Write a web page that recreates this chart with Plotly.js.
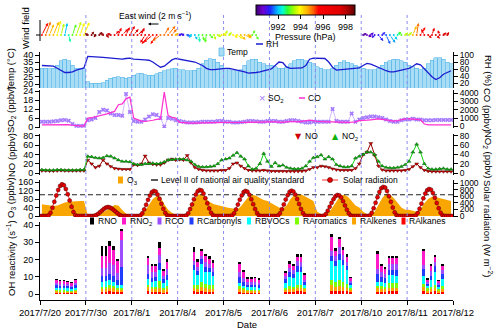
<!DOCTYPE html>
<html><head><meta charset="utf-8">
<script src="https://cdn.plot.ly/plotly-3.0.1.min.js"></script>
<style>html,body{margin:0;padding:0;background:#fff}#chart{width:500px;height:333px}</style>
</head><body><div id="chart"></div>
<script>
// ---------------- DATA ----------------
const dayLabels = ['2017/7/20','2017/7/30','2017/8/1','2017/8/4','2017/8/5','2017/8/6','2017/8/7','2017/8/10','2017/8/11'];
const tickLabels = ['2017/7/20','2017/7/30','2017/8/1','2017/8/4','2017/8/5','2017/8/6','2017/8/7','2017/8/10','2017/8/11','2017/8/12'];
const hours2 = [1,3,5,7,9,11,13,15,17,19,21,23];
const hours1 = [0.5,1.5,2.5,3.5,4.5,5.5,6.5,7.5,8.5,9.5,10.5,11.5,12.5,13.5,14.5,15.5,16.5,17.5,18.5,19.5,20.5,21.5,22.5,23.5];
const ohHours = [8.5,10.5,12.5,14.5,16.5,18.5];

const temp = [
 31,31,30.5,31,33,36,37,36,33,31,30.5,30.5,
 21.5,20.5,20.5,20.5,21,22.5,24,24.5,25,24.5,24,24.5,
 26,27,27.5,26.5,26,26,27,28,29,30,30.5,31,
 30,30,29,29,29.5,31,34,36.5,37.5,37,35,33,
 31,30,29,29,30,33,36,37,37,35,34,33,
 33,32,31,31,32,34,36,37,37,36,35,34,
 32,31,30,30,31,33,35,36,35,34,33,32,
 31,30,30,30,31,33,35,36,37,37,36,35,
 33,32,31,30,31,34,36.5,38,38,37,35,34];
const rh = [
 70,70,70,68,62,55,50,50,52,57,60,63,
 96,96,95,94,93,92,90,88,87,88,90,91,
 88,88,87,86,85,80,72,65,68,78,86,90,
 88,86,84,82,80,75,70,62,58,58,60,62,
 62,62,60,58,56,52,48,48,50,52,55,57,
 60,70,80,78,65,62,62,63,63,70,88,91,
 91,91,90,80,65,57,58,60,62,63,63,63,
 70,76,74,70,65,60,55,52,52,55,58,60,
 62,68,75,72,60,50,38,30,35,45,50,55];
const so2 = [
 3.5,3.5,3.5,3.8,4,4.5,4.7,4.2,2,0.8,0.7,0.8,
 4.5,5,6,10,11.5,11,9,8,8,7.5,22,10,
 4,3.5,3.5,5,7,8.5,8,6,0.3,6,5.5,4.5,
 4,3.5,3,3,3,3.2,3.5,3.5,3.5,3.5,4,4,
 3.5,3.5,3,3,3.2,3.5,4,4,3.8,3.5,3.5,4,
 4,4,3.5,3.5,4,4.5,4.5,4,3.5,3,3,3.5,
 3.5,3.5,3.5,3.5,12,4,3.5,3.5,3.5,9,3.5,5,
 6,6.5,7,7,6.5,6,5,4,3.5,3.5,4.5,5,
 5,5.5,5,5,4.5,4.5,4.5,4.7,4.7,4.7,4.7,4.7];
const co = [
 200,200,200,220,250,250,250,230,150,80,80,80,
 1000,1050,1150,1250,1350,1500,1650,1800,2600,2700,3300,3500,
 1000,800,650,600,650,750,850,900,4100,1300,1100,1000,
 500,450,400,400,400,420,450,450,450,450,500,500,
 500,480,450,450,480,500,520,520,500,500,520,550,
 550,550,500,500,550,600,600,550,600,700,750,700,
 600,600,550,550,550,520,500,500,500,520,550,700,
 700,750,800,850,900,850,800,700,650,700,800,900,
 900,900,850,800,300,200,200,200,200,200,200,200];
const no = [
 5,5,4.5,4.5,5,5.5,5,5,5,5,5,5,
 28,20,12,15,28,20,14,10,9,8,8,8,
 18,17,20,37,22,19,18,18,22,28,30,28,
 29,28,38,22,12,8,6,5,5,5,5,6,
 6,10,20,22,15,10,6,5,5,5,6,5,
 4,4,4,4,3.5,3.5,3.5,3.5,4,5,8,12,
 12,15,14,12,9,7,6,6,6,6,10,20,
 40,45,64,38,15,7,5,5,5,5,5,6,
 8,14,20,12,6,4,3,3,3,3,3,3];
const no2 = [
 7,6,6,6,7,7,6,6,6,6,7,7,
 36,35,33,32,33,37,36,32,28,25,25,24,
 20,18,18,20,20,21,20,21,24,28,29,30,
 30,30,28,25,18,14,13,13,14,15,20,28,
 30,32,38,44,36,30,15,8,10,20,42,25,
 14,22,15,17,12,10,9,9,10,15,25,33,
 35,39,30,35,30,18,15,13,13,15,32,36,
 40,45,45,40,25,15,12,11,11,12,14,18,
 25,45,62,45,20,10,8,8,9,10,8,8];
const o3 = [
 55,52,48,47,50,58,64,67,69,70,70,70,
 3,8,12,14,18,28,40,52,50,28,12,5,
 4,5,8,25,55,80,94,90,55,30,15,5,
 3,5,10,40,80,102,100,80,65,55,50,45,
 40,38,35,30,45,70,90,100,95,85,75,70,
 60,50,40,35,50,80,100,105,100,90,80,70,
 20,10,8,15,40,70,95,100,90,70,50,40,
 20,10,8,20,50,85,105,100,85,60,40,30,
 30,25,20,30,60,80,90,88,85,80,75,70];
const o3Standard = 100;
const solar = [
 0,0,0,0,20,100,250,430,620,790,910,960,930,820,660,470,280,120,25,0,0,0,0,0,
 0,0,0,0,5,30,70,120,170,220,255,270,260,230,185,135,85,40,8,0,0,0,0,0,
 0,0,0,0,15,80,200,340,490,620,720,760,740,650,520,370,220,95,20,0,0,0,0,0,
 0,0,0,0,15,85,210,350,510,650,750,790,770,680,540,385,230,100,20,0,0,0,0,0,
 0,0,0,0,15,80,200,345,495,625,725,760,735,645,510,360,210,90,18,0,0,0,0,0,
 0,0,0,0,15,80,205,350,500,630,730,765,740,650,515,365,215,92,18,0,0,0,0,0,
 0,0,0,0,10,60,160,280,400,510,595,635,625,560,450,320,190,80,15,0,0,0,0,0,
 0,0,0,0,18,95,235,400,570,730,840,880,860,760,600,430,255,110,22,0,0,0,0,0,
 0,0,0,0,16,88,220,375,535,680,780,818,795,700,555,395,235,100,20,0,0,0,0,0];
const N = null;
const windU = [
 1.0,0.8,0.7,0.9,0.6,0.5,0.4,0.3,0.6,0.8,0.7,0.9,
 -0.5,0.4,-0.3,0.5,-0.4,0.3,-0.6,0.8,0.5,1.0,0.6,0.8,
 0.8,1.0,0.5,-0.8,-1.2,-1.5,-1.0,-1.3,0.8,1.2,0.8,0.5,
 0.5,-0.4,0.6,-0.3,0.4,0.2,0.3,-0.2,0.5,0.3,0.6,0.8,
 0.3,0.4,0.8,1.0,0.8,1.2,0.6,0.5,0.4,N,N,N,
 N,N,N,N,N,N,N,N,N,N,N,N,
 N,N,N,N,N,N,N,N,N,N,N,N,
 0.6,0.8,0.5,-0.5,0.8,0.5,0.7,0.9,0.6,0.5,-0.4,0.5,
 0.5,0.6,0.3,0.8,-0.5,0.6,0.4,0.7,-0.3,0.5,0.3,N];
const windV = [
 2.0,2.2,1.8,2.2,2.4,1.9,2.0,-1.2,1.8,2.2,2.0,2.1,
 0.3,0.6,-0.4,0.5,0.4,-0.5,0.3,0.7,1.2,1.0,1.3,1.5,
 1.0,0.8,1.2,-1.3,-1.5,-1.2,-1.5,-1.0,1.3,1.5,1.0,0.3,
 0.2,0.3,-0.2,-0.5,-0.8,-1.2,-1.0,-1.3,-0.6,-0.8,-0.3,0.2,
 0.8,0.5,-0.4,-0.6,-0.8,-0.5,-0.3,0.8,-0.8,N,N,N,
 N,N,N,N,N,N,N,N,N,N,N,N,
 N,N,N,N,N,N,N,N,N,N,N,N,
 0.3,-0.3,0.4,-0.5,-1.0,0.5,-1.5,-1.3,-0.8,0.5,0.6,0.4,
 0.5,1.5,2.0,1.3,1.0,-0.5,1.2,-0.6,0.8,0.4,0.5,N];
const windP = [
 995.5,995,994.5,994.5,994,993.5,992,992.5,993,993.5,994,994,
 998.5,998.5,998.5,998.5,998.3,998,997.8,997,996.5,996.5,996.5,996.8,
 997.5,997,997,996.5,996,995.5,995.5,995,995,995,995,994.5,
 991,991,991.5,992,992,992.5,993,993,993,993.5,993.5,994,
 993.5,993.5,994,994,994.5,994.5,994.5,993,993,N,N,N,
 N,N,N,N,N,N,N,N,N,N,N,N,
 N,N,N,N,N,N,N,N,N,N,N,N,
 990.3,990.5,990.8,991,991.2,991.2,991.5,991.8,992,992.5,993,993.5,
 993.5,994.5,995,995.5,996,996.5,997,997.5,997,997.5,997.5,N];
const legendWindSpeed = 2;

// OH reactivity components (6 bars per day)
const ohNames = ['RNO','RNO<sub>2</sub>','RCO','RCarbonyls','RBVOCs','RAromatics','RAlkenes','RAlkanes'];
const rNO = [0.8,0.8,0.8,0.7,0.6,0.8, 5.5,5.5,3.3,2,1,1, 1.5,1.2,1.2,3.5,1.5,1.5, 3,1.5,1.5,1.5,1.5,1.5, 1,1,0.8,0.8,0.8,0.8, 1,1.5,1.2,1.5,1.5,1, 2,1.5,1,1.5,1.5,0.8, 1.5,1.2,1.2,1.3,1.3,1.3, 1.5,0.8,1,1.3,0.8,1.2];
const rNO2 = [1.5,1.4,1.4,1.3,1.2,1.5, 7.3,7,9.6,9,7,5.7, 4,3.5,3,4,2.5,4, 5,3,2.5,3.5,3,3, 5,3.5,2,2,2.2,1.8, 1.5,2.5,2.2,2.5,3,3, 8,3,5,3,3,1.5, 9,3.5,3,3.5,3.5,3.5, 8,1.2,3,3,1.2,2.5];
const rCO = [1.2,1.1,1.1,1.0,0.9,1.2, 4.8,5,6.7,6,4,15.3, 5,3,3,4.5,2,3.5, 2.5,2,2,2.5,2.5,2, 3,2.5,1.5,1.5,1.5,1.4, 2,2.5,2.2,3,3,1.5, 3,3,4,2.5,2,1.2, 3,2.5,2.5,3,3,3, 2.5,1,2.5,2.5,1,2.5];
const rCarbonyls = [1.5,1.4,1.4,1.3,1.1,1.5, 3,3,3,3.5,3,10.5, 3,2.5,2.5,4,2.5,3, 3,2.5,3,3,2.5,2.5, 3,2,1.5,1.5,1.5,1.4, 2.5,2.5,2.3,3,3,1.5, 3,3,3,3,2.5,1.2, 4.5,3,2.5,3,3,3.5, 4,1.3,2.5,3,1.2,2.5];
const rBVOCs = [1.5,1.4,1.4,1.3,1.1,1.5, 3,3,3,2.5,1.7,1.9, 3.5,3,3.5,6.5,3,3.5, 8.5,6,10.5,7,7,5.5, 2,1.5,1.3,1.3,1.4,1.2, 3,5.5,5,7.5,7,1.5, 11,9,12,10,8,2, 2,2.5,2.5,5,5,4.5, 4.5,1.5,4,7.5,1.2,4];
const rAromatics = [0.7,0.7,0.7,0.7,0.6,0.7, 1.5,1.5,1.7,1.5,1.2,1.2, 1.5,1.3,1.3,4,1,1.5, 2,2,3,2.5,2.5,2, 1.5,1,0.8,0.8,0.9,0.8, 1,1.5,1.5,2,2,1, 3,3,3.5,3,2.5,1.2, 1.5,1.5,1.3,2.5,2.5,2.5, 2,1.2,1.5,2,1,1.8];
const rAlkenes = [0.9,0.8,0.8,0.8,0.7,0.9, 1.5,1.6,2,1.8,1.3,1.2, 2.3,1.7,1.7,2.2,1.5,1.8, 1.7,1.8,2.3,2,1.8,1.8, 2,1.5,1,1,1,1, 1.3,1.7,1.6,2,2,1.5, 3,2.5,2.5,2.5,2,1.2, 2,1.8,1.6,2.2,2.2,2.2, 2.3,1.2,1.5,2,1.2,1.8];
const rAlkanes = [0.6,0.6,0.6,0.5,0.5,0.6, 1.2,1.2,1.7,1.4,1,1, 1.5,1,1,1.3,0.7,1.3, 1.5,1.3,1.5,1.4,1.2,1.2, 1.1,0.8,0.7,0.7,0.7,0.6, 0.9,1.4,1.2,1.5,1.5,1.2, 2,1.5,2,1.5,1.5,0.9, 1.4,1.2,1.1,1.5,1.5,1.5, 1.5,0.8,1.2,1.5,0.8,1.3];

// ---------------- LAYOUT HELPERS ----------------
const W = 500, H = 333, mL = 40, mR = 47, mT = 5, mB = 33;
const plotW = W - mL - mR, plotH = H - mT - mB;
const X = px => (px - mL) / plotW;
const Y = py => (H - mB - py) / plotH;
const dom = (top, bot) => [Y(bot), Y(top)];
const FONT = 'Arial, "Liberation Sans", sans-serif';

function series(hrs){ const xs=[]; dayLabels.forEach((d,i)=>hrs.forEach(h=>xs.push(i+h/24))); return xs; }
const x2 = series(hours2), x1 = series(hours1), xOH = series(ohHours);

const pMin = 990, pMax = 998.8;
const pScale = [[0,'#3d0070'],[0.07,'#7000d0'],[0.14,'#2020ff'],[0.22,'#00c0ff'],[0.27,'#00ffd0'],[0.32,'#30ff30'],[0.38,'#a0ff00'],[0.44,'#ffff00'],[0.52,'#ffb000'],[0.58,'#ff6000'],[0.63,'#ff0000'],[0.85,'#e00000'],[0.93,'#a80000'],[1,'#5a0000']];
const hex = h => [1,3,5].map(i=>parseInt(h.substr(i,2),16));
function pColor(p){
  let t=(p-pMin)/(pMax-pMin); t=Math.max(0,Math.min(1,t));
  for(let i=1;i<pScale.length;i++){
    if(t<=pScale[i][0]){
      const t0=pScale[i-1][0], t1=pScale[i][0], a=hex(pScale[i-1][1]), b=hex(pScale[i][1]);
      const f=(t-t0)/(t1-t0);
      return 'rgb('+a.map((v,k)=>Math.round(v+(b[k]-v)*f)).join(',')+')';
    }
  }
  return pScale[pScale.length-1][1];
}

// wind geometry: 6 px per m/s
const pxPerMs = 6;
const kx = pxPerMs * dayLabels.length / plotW;  // days per m/s
const windTop = 12, windBot = 50, windBase = 35;
const windRange = [-(windBot-windBase)/pxPerMs, (windBase-windTop)/pxPerMs];

// ---------------- TRACES ----------------
const traces = [];
const wx=[], wy=[], wc=[];
windP.forEach((p,i)=>{ if(p!=null){ wx.push(x2[i]); wy.push(0); wc.push(p);} });
traces.push({type:'scatter', mode:'markers', x:wx, y:wy, xaxis:'x', yaxis:'y', hoverinfo:'skip', showlegend:false,
  marker:{size:2, color:wc, colorscale:pScale, cmin:pMin, cmax:pMax, showscale:true,
    colorbar:{orientation:'h', x:X(305), xanchor:'center', y:Y(5.5), yanchor:'top', len:99/plotW, lenmode:'fraction',
      thickness:10, xpad:0, ypad:0, outlinewidth:1, outlinecolor:'#000', tickvals:[992,994,996,998], ticks:'outside', ticklen:4,
      tickcolor:'#000', tickfont:{size:9, family:FONT, color:'#000'}, title:{text:''}}}});

traces.push({type:'bar', x:x2, y:temp, yaxis:'y2', width:2/24, showlegend:false,
  marker:{color:'#a9ddf6', line:{color:'#58b6e8', width:0.6}}});
traces.push({type:'scatter', mode:'lines', x:x2, y:rh, yaxis:'y3', showlegend:false, line:{color:'#1c1cd0', width:1.3}});

traces.push({type:'scatter', mode:'lines', x:x2, y:co, yaxis:'y5', showlegend:false, line:{color:'#ff2fd0', width:1.2}});
traces.push({type:'scatter', mode:'lines+markers', x:x2, y:so2, yaxis:'y4', showlegend:false,
  line:{color:'#c6a4ff', width:0.8}, marker:{symbol:'x', size:4, color:'#a47aff'}});

traces.push({type:'scatter', mode:'lines+markers', x:x2, y:no, yaxis:'y6', showlegend:false,
  line:{color:'#9a0000', width:1}, marker:{symbol:'triangle-down', size:3.5, color:'#d00000', line:{color:'#400000', width:0.4}}});
traces.push({type:'scatter', mode:'lines+markers', x:x2, y:no2, yaxis:'y7', showlegend:false,
  line:{color:'#10d010', width:1}, marker:{symbol:'triangle-up', size:3.5, color:'#10b010', line:{color:'#003000', width:0.4}}});

traces.push({type:'scatter', mode:'lines', x:x2, y:o3, yaxis:'y8', showlegend:false, fill:'tozeroy',
  fillcolor:'#f9a602', line:{width:0, color:'#f9a602'}});
traces.push({type:'scatter', mode:'lines', x:[0, dayLabels.length], y:[o3Standard, o3Standard], yaxis:'y8', showlegend:false,
  line:{color:'#222', width:1, dash:'5px,3px'}});
traces.push({type:'scatter', mode:'lines+markers', x:x1, y:solar, yaxis:'y9', showlegend:false,
  line:{color:'#ff3030', width:1}, marker:{symbol:'circle', size:4, color:'#e80000', line:{color:'#500000', width:0.5}}});

const ohSeries = [rNO, rNO2, rCO, rCarbonyls, rBVOCs, rAromatics, rAlkenes, rAlkanes];
const ohColors = ['#000000','#ff19c8','#9b4dff','#1f3cff','#00ffff','#7fff00','#ffa500','#ff0000'];
for(let k=ohSeries.length-1;k>=0;k--){
  traces.push({type:'bar', x:xOH, y:ohSeries[k], yaxis:'y10', width:0.058, name:ohNames[k], showlegend:false,
    marker:{color:ohColors[k]}});
}

// ---------------- AXES ----------------
const tickFont = {size:9, family:FONT, color:'#000'};
const rTickFont = {size:8.5, family:FONT, color:'#000'};
function yax(o){
  return Object.assign({showline:true, linecolor:'#000', linewidth:1, ticks:'outside', ticklen:4, tickcolor:'#000', tickwidth:1,
    showgrid:false, zeroline:false, tickfont:tickFont, fixedrange:true, anchor:'x'}, o);
}
const layout = {
  width:W, height:H, margin:{l:mL, r:mR, t:mT, b:mB}, paper_bgcolor:'#fff', plot_bgcolor:'rgba(0,0,0,0)',
  font:{family:FONT, size:9.5, color:'#000'}, barmode:'stack', showlegend:false,
  xaxis:{range:[0, dayLabels.length], tickvals:tickLabels.map((t,i)=>i), ticktext:tickLabels, anchor:'y10',
    showline:true, linecolor:'#000', ticks:'outside', ticklen:4, tickcolor:'#000', showgrid:false, zeroline:false,
    tickfont:{size:9.5, family:FONT, color:'#000'}, fixedrange:true},
  yaxis: yax({domain:dom(windTop, windBot), range:windRange, showline:false, ticks:'', showticklabels:false}),
  yaxis2: yax({domain:dom(52,88), range:[17.24,42.07], tickvals:[20,25,30,35,40]}),
  yaxis3: yax({overlaying:'y2', side:'right', range:[5.7,108.6], tickvals:[20,40,60,80,100], tickfont:rTickFont}),
  yaxis4: yax({domain:dom(90,128), range:[-0.67,24.67], tickvals:[0,6,12,18,24]}),
  yaxis5: yax({overlaying:'y4', side:'right', range:[-179,4358], tickvals:[0,1000,2000,3000,4000], tickfont:rTickFont}),
  yaxis6: yax({domain:dom(134,175), range:[-4.3,84.3], tickvals:[0,20,40,60,80]}),
  yaxis7: yax({overlaying:'y6', side:'right', range:[-4.3,84.3], tickvals:[0,20,40,60,80], tickfont:rTickFont}),
  yaxis8: yax({domain:dom(180,217), range:[-4.7,169.4], tickvals:[0,40,80,120,160]}),
  yaxis9: yax({overlaying:'y8', side:'right', range:[-30,1091], tickvals:[0,200,400,600,800,1000], tickfont:rTickFont}),
  yaxis10: yax({domain:dom(222,300), range:[-3.48,41.74], tickvals:[0,10,20,30,40]}),
};

// ---------------- SHAPES ----------------
const shapes = [];
for(let i=1;i<dayLabels.length;i++){
  shapes.push({type:'line', xref:'x', yref:'paper', x0:i, x1:i, y0:0, y1:Y(14), line:{color:'#8c8cf0', width:1, dash:'dot'}, layer:'above'});
}
shapes.push({type:'line', xref:'paper', yref:'paper', x0:0, x1:0, y0:Y(41), y1:Y(20), line:{color:'#000', width:1}});
shapes.push({type:'line', xref:'paper', yref:'paper', x0:X(36), x1:0, y0:Y(windBase), y1:Y(windBase), line:{color:'#000', width:1}});
const rect = (x0,x1,y0,y1,fill,lc)=>({type:'rect', xref:'paper', yref:'paper', x0:X(x0), x1:X(x1), y0:Y(y1), y1:Y(y0), fillcolor:fill, line:{color:lc||fill, width:lc?0.8:0}});
const hline = (x0,x1,y,c,w,d)=>({type:'line', xref:'paper', yref:'paper', x0:X(x0), x1:X(x1), y0:Y(y), y1:Y(y), line:{color:c, width:w||1.3, dash:d||'solid'}});
shapes.push(rect(219,224,48,56,'#a9ddf6','#58b6e8'));
shapes.push(hline(256,263,44,'#1c1cd0',1.5));
shapes.push(hline(299,305,98,'#ff2fd0',1.5));
shapes.push(rect(118,123,176.5,183.5,'#f9a602'));
shapes.push(hline(151,158,180,'#000',1.3));
shapes.push(hline(322,338,180,'#ff3030',1));
shapes.push({type:'circle', xref:'paper', yref:'paper', x0:X(327.5), x1:X(332.5), y0:Y(182.5), y1:Y(177.5), fillcolor:'#e80000', line:{color:'#500000', width:0.6}});
const ohLegX = [92,124,159.5,191.5,249,297,354,403.5];
const ohTextX = [96.5,128.5,164,196,253.5,301.5,358.5,408];
ohLegX.forEach((cx,i)=>shapes.push(rect(cx-2,cx+2,217.5,224.5,ohColors[i])));
layout.shapes = shapes;

// ---------------- ANNOTATIONS ----------------
const anns = [];
windU.forEach((u,i)=>{
  if(u==null) return;
  anns.push({xref:'x', yref:'y', axref:'x', ayref:'y', x:x2[i]+u*kx, y:windV[i], ax:x2[i], ay:0, text:'',
    showarrow:true, arrowhead:2, arrowsize:0.6, arrowwidth:1, arrowcolor:pColor(windP[i]), standoff:0, startstandoff:0});
});
const LF = 8.5;
const t = (px,py,text,o)=>Object.assign({xref:'paper', yref:'paper', x:X(px), y:Y(py), text:text, showarrow:false,
  xanchor:'left', yanchor:'middle', borderpad:0, font:{size:LF, family:FONT, color:'#000'}}, o||{});
// wind legend + colorbar title
anns.push(t(155,15,'East wind (2 m s<sup>−1</sup>)',{xanchor:'center'}));
anns.push({xref:'paper', yref:'paper', x:X(148), y:Y(24), ax:legendWindSpeed*pxPerMs, ay:0, text:'', showarrow:true,
  arrowhead:2, arrowsize:0.6, arrowwidth:1, arrowcolor:'#000', standoff:0});
anns.push(t(305,37,'Pressure (hPa)',{xanchor:'center', font:{size:9, family:FONT, color:'#000'}}));
anns.push(t(226,52,'Temp'));
anns.push(t(265,44,'RH'));
anns.push(t(262,98,'×',{xanchor:'center', font:{size:11, family:FONT, color:'#a47aff'}}));
anns.push(t(267,98,'SO<sub>2</sub>'));
anns.push(t(307,98,'CO'));
anns.push(t(298,136,'▼',{xanchor:'center', font:{size:8, family:'DejaVu Sans', color:'#d00000'}}));
anns.push(t(304,136,'NO'));
anns.push(t(335,136,'▲',{xanchor:'center', font:{size:8, family:'DejaVu Sans', color:'#10b010'}}));
anns.push(t(341,136,'NO<sub>2</sub>'));
anns.push(t(126,180,'O<sub>3</sub>'));
anns.push(t(160,180,'Level II of national air quality standard'));
anns.push(t(342,180,'Solar radiation'));
ohNames.forEach((n,i)=>anns.push(t(ohTextX[i],221,n)));
// axis titles
const lt = (px,py,text)=>t(px,py,text,{xanchor:'center', textangle:-90, font:{size:9.5, family:FONT, color:'#000'}});
const rt = (px,py,text)=>t(px,py,text,{xanchor:'center', textangle:90, font:{size:9.5, family:FONT, color:'#000'}});
anns.push(lt(26,28,'Wind field'));
anns.push(lt(11,70,'Temp (°C)'));
anns.push(lt(11,110,'SO<sub>2</sub> (ppbv)'));
anns.push(lt(11,155,'NO (ppbv)'));
anns.push(lt(11,198,'O<sub>3</sub> (ppbv)'));
anns.push(lt(11,258,'OH reactivity (s<sup>−1</sup>)'));
anns.push(rt(488,70,'RH (%)'));
anns.push(rt(488,110,'CO (ppbv)'));
anns.push(rt(488,155,'NO<sub>2</sub> (ppbv)'));
anns.push(rt(488,228,'Solar radiation (W m<sup>−2</sup>)'));
anns.push(t(246.5,324,'Date',{xanchor:'center', font:{size:9.5, family:FONT, color:'#000'}}));
layout.annotations = anns;

Plotly.newPlot('chart', traces, layout, {displayModeBar:false, staticPlot:true});
</script></body></html>
